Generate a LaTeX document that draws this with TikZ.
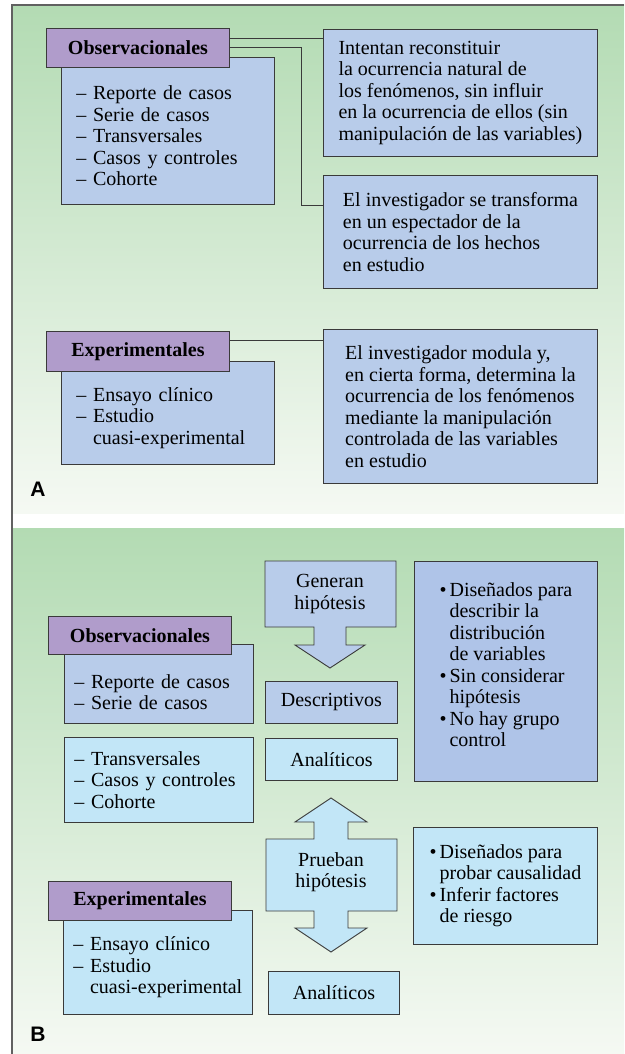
\documentclass[tikz,border=0pt]{standalone}
\usepackage{fontspec}
\setmainfont{Liberation Serif}
\setsansfont{Liberation Sans}
\usetikzlibrary{positioning, calc}
\definecolor{panelgreen}{HTML}{B3DBB3}
\definecolor{panelpale}{HTML}{F5F9F3}
\definecolor{headpurple}{HTML}{B09CCB}
\definecolor{boxblue}{HTML}{B8CCEA}
\definecolor{boxdeep}{HTML}{AFC4E8}
\definecolor{boxcyan}{HTML}{C2E6F7}
\definecolor{edgegray}{HTML}{3A3A3A}
\newcommand{\boxfont}{\fontsize{20}{21.5}\selectfont}
\newcommand{\itemdot}{\makebox[10pt][l]{\textbullet}}
\newcommand{\itemgap}{\hspace*{10pt}}
\tikzset{
  head/.style={
    rectangle, draw=edgegray, fill=headpurple, line width=0.9pt,
    anchor=north west, inner sep=0pt, font=\boxfont\bfseries, align=center
  },
  listbox/.style={
    rectangle, draw=edgegray, fill=boxblue, line width=0.9pt,
    anchor=north west, inner ysep=0pt, align=left
  },
  notebox/.style={
    rectangle, draw=edgegray, fill=boxblue, line width=0.9pt,
    anchor=north west, inner sep=0pt, align=left
  },
  tag/.style={anchor=center, font=\fontsize{21}{24}\selectfont\sffamily\bfseries},
  link/.style={line width=0.9pt, draw=edgegray},
  frame/.style={line width=1.2pt, draw=edgegray!80}
}

\begin{document}
\begin{tikzpicture}[x=1pt, y=-1pt, every node/.style={font=\boxfont}]
    \useasboundingbox (0,0) rectangle (624,1054);

    % Panel backgrounds
    \shade[top color=panelgreen, bottom color=panelpale] (12,5) rectangle (624,513);
    \shade[top color=panelgreen, bottom color=panelpale] (12,528) rectangle (624,1054);
    \draw[frame] (624,5) -- (12,5) -- (12,1054);

    % Panel A
    \node[listbox, minimum height=147pt, text width=183pt, inner xsep=15pt] (obsListA) at (61,57)
      {\rule{0pt}{24pt}-- Reporte de casos\\-- Serie de casos\\-- Transversales\\-- Casos y controles\\-- Cohorte};
    \node[head, minimum width=183pt, minimum height=39pt] (obsA) at (46,28) {Observacionales};

    \node[notebox, minimum width=274pt, minimum height=127pt] (noteA1) at (323,29)
      {Intentan reconstituir\\la ocurrencia natural de\\los fenómenos, sin influir\\en la ocurrencia de ellos (sin\\manipulación de las variables)};
    \node[notebox, minimum width=274pt, minimum height=113pt] (noteA2) at (323,175)
      {El investigador se transforma\\en un espectador de la\\ocurrencia de los hechos\\en estudio};

    \draw[link] ([yshift=9.5pt]obsA.east) -- ([yshift=9.5pt]obsA.east -| noteA1.west);
    \draw[link] (obsA.east) -- ++(72,0) |- ([yshift=-30pt]noteA2.north west);

    \node[listbox, minimum height=103pt, text width=183pt, inner xsep=15pt] (expListA) at (61,361)
      {\rule{0pt}{24pt}-- Ensayo clínico\\-- Estudio\\\phantom{-- }cuasi-experimental};
    \node[head, minimum width=183pt, minimum height=40pt] (expA) at (46,331) {Experimentales};

    \node[notebox, minimum width=274pt, minimum height=154pt] (noteA3) at (323,329)
      {El investigador modula y,\\en cierta forma, determina la\\ocurrencia de los fenómenos\\mediante la manipulación\\controlada de las variables\\en estudio};

    \draw[link] ([yshift=11pt]expA.east) -- ([yshift=11pt]expA.east -| noteA3.west);

    \node[tag] (tagA) at (38,489) {A};

    % Panel B
    \node[listbox, minimum height=79pt, text width=169pt, inner xsep=10pt] (obsListB) at (64,644)
      {\rule{0pt}{30pt}-- Reporte de casos\\-- Serie de casos};
    \node[listbox, fill=boxcyan, minimum height=85pt, text width=169pt, inner xsep=10pt] (anaListB) at (64,737)
      {-- Transversales\\-- Casos y controles\\-- Cohorte};
    \node[head, minimum width=183pt, minimum height=38pt] (obsB) at (48,616) {Observacionales};

    % Down arrow
    \filldraw[link, fill=boxblue] (265,561) -- (396,561) -- (396,627) -- (346,627) -- (346,645)
      -- (365,645) -- (330,668) -- (295,645) -- (314,645) -- (314,627) -- (265,627) -- cycle;
    \node[align=center] (genText) at (330,594) {Generan\\hipótesis};

    \node[notebox, align=center, minimum width=132pt, minimum height=42pt] (descBox) at (265,681) {Descriptivos};
    \node[notebox, fill=boxcyan, align=center, minimum width=132pt, minimum height=42pt] (anaBoxA) at (265,738) {Analíticos};

    \node[notebox, fill=boxdeep, minimum width=183pt, minimum height=220pt] (noteB1) at (414,561)
      {\itemdot Diseñados para\\\itemgap describir la\\\itemgap distribución\\\itemgap de variables\\
       \itemdot Sin considerar\\\itemgap hipótesis\\\itemdot No hay grupo\\\itemgap control\rule[-14pt]{0pt}{14pt}};

    % Double arrow
    \filldraw[link, fill=boxcyan] (331,798) -- (367,822) -- (348,822) -- (348,839) -- (397,839)
      -- (397,911) -- (348,911) -- (348,928) -- (367,928) -- (331,952) -- (295,928) -- (314,928)
      -- (314,911) -- (266,911) -- (266,839) -- (314,839) -- (314,822) -- (295,822) -- cycle;
    \node[align=center] (pruText) at (331,872) {Prueban\\hipótesis};

    \node[notebox, fill=boxcyan, minimum width=184pt, minimum height=117pt] (noteB2) at (413,827)
      {\itemdot Diseñados para\\\itemgap probar causalidad\\\itemdot Inferir factores\\\itemgap de riesgo};

    \node[listbox, fill=boxcyan, minimum height=104pt, text width=169pt, inner xsep=10pt] (expListB) at (63,910)
      {\rule{0pt}{24pt}-- Ensayo clínico\\-- Estudio\\\phantom{-- }cuasi-experimental};
    \node[head, minimum width=183pt, minimum height=39pt] (expB) at (48,881) {Experimentales};

    \node[notebox, fill=boxcyan, align=center, minimum width=131pt, minimum height=43pt] (anaBoxB) at (268,971) {Analíticos};

    \node[tag] (tagB) at (38,1034) {B};

\end{tikzpicture}
\end{document}
